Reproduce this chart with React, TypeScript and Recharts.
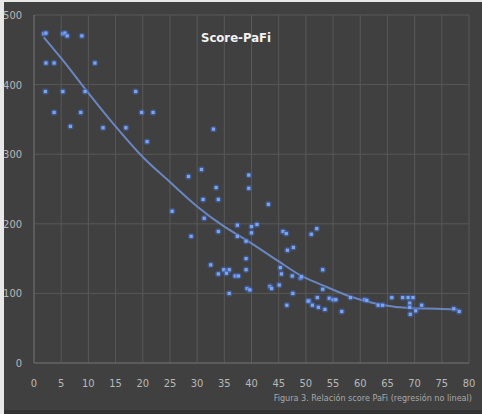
import { CartesianGrid, ComposedChart, Line, Scatter, XAxis, YAxis } from 'recharts'

const scoreX = [
  1.8, 2.2, 5.3, 5.7, 6.1, 8.8, 2.2, 3.7, 11.2, 2.1, 5.3, 9.4, 18.7, 3.7, 8.6, 19.8, 21.9, 6.7, 12.7, 16.9,
  20.8, 33, 30.8, 28.4, 39.5, 39.5, 33.5, 31.1, 33.9, 43.1, 25.4, 31.3, 37.4, 40, 41, 28.9, 33.9, 37.4,
  40, 39, 45.8, 46.4, 52, 51, 47.7, 46.6, 39, 45.3, 45.5, 47.5, 49, 32.5, 34.9, 35.9, 33.9, 35.4, 37,
  37.6, 39, 39.2, 39.7, 35.9, 43.4, 43.7, 45.1, 47.6, 46.5, 50.6, 51.2, 52.1, 52.3, 53.1, 49.2, 53.1,
  50.4, 53.5, 54.3, 55, 55.5, 56.6, 58.2, 60.8, 61.2, 63.3, 64.1, 65.8, 67.8, 68.8, 69.7, 69.1, 69.1,
  69.2, 70.2, 71.3, 77.2, 78.2,
]
const pafiY = [
  473, 474, 473, 474, 470, 470, 431, 431, 431, 390, 390, 390, 390, 360, 360, 360, 360, 340, 338, 338,
  318, 336, 278, 268, 270, 251, 252, 235, 235, 228, 218, 208, 198, 196, 199, 182, 189, 182, 187, 175,
  189, 186, 193, 185, 166, 162, 150, 137, 128, 125, 122, 141, 134, 134, 128, 129, 125, 125, 134, 107,
  105, 100, 110, 107, 112, 100, 83, 89, 83, 94, 80, 134, 124, 106, 89, 77, 93, 91, 91, 74, 94, 91, 90,
  83, 83, 94, 94, 94, 94, 86, 80, 70, 75, 83, 78, 74,
]

const trendX = [1.8, 5, 10, 15, 20, 25, 30, 35, 39, 45, 49, 53, 58, 63.6, 69, 74, 78]
const trendY = [468, 438, 388, 340, 296, 260, 225, 196, 177, 146, 126, 112, 96, 84, 79, 78, 77]

const xTicks = [0, 5, 10, 15, 20, 25, 30, 35, 40, 45, 50, 55, 60, 65, 70, 75, 80]
const yTicks = [0, 100, 200, 300, 400, 500]

const points = scoreX.map((x, i) => ({ x, y: pafiY[i] }))
const trend = trendX.map((x, i) => ({ x, y: trendY[i] }))

const FONT = '"DejaVu Sans Condensed", "Liberation Sans Narrow", "Open Sans", sans-serif'

const Dot = (props: any) => {
  const { cx, cy } = props
  if (cx == null || cy == null) return null
  return (
    <g>
      <circle cx={cx} cy={cy} r={3.2} fill="#3f66b8" opacity={0.6} />
      <rect x={cx - 1.6} y={cy - 1.6} width={3.2} height={3.2} fill="#7fa4ee" />
    </g>
  )
}

export default function App() {
  return (
    <div
      style={{
        position: 'absolute', left: 0, top: 0, width: 482, height: 414,
        background: '#e8e8e8', overflow: 'hidden',
      }}
    >
      <div
        style={{
          position: 'absolute', left: 4, top: 2, width: 478, height: 408,
          background: '#404040', borderBottom: '4px solid #333',
        }}
      />
      <div style={{ position: 'absolute', left: 0, top: 0 }}>
        <ComposedChart width={482} height={414} margin={{ top: 15, right: 13, bottom: 0, left: 0 }}>
          <CartesianGrid stroke="#585858" strokeWidth={1} />
          <XAxis
            type="number"
            dataKey="x"
            domain={[0, 80]}
            ticks={xTicks}
            height={51}
            axisLine={{ stroke: '#6a6a6a' }}
            tickLine={false}
            tick={{ fill: '#b8b8b8', fontSize: 11, fontFamily: FONT }}
            tickMargin={10}
          />
          <YAxis
            type="number"
            dataKey="y"
            domain={[0, 500]}
            ticks={yTicks}
            width={34}
            axisLine={{ stroke: '#6a6a6a' }}
            tickLine={false}
            tick={{ fill: '#b8b8b8', fontSize: 11, fontFamily: FONT }}
            tickMargin={6}
          />
          <Line
            data={trend}
            dataKey="y"
            type="monotone"
            stroke="#6a86c0"
            strokeWidth={2}
            dot={false}
            isAnimationActive={false}
          />
          <Scatter data={points} dataKey="y" shape={<Dot />} isAnimationActive={false} />
        </ComposedChart>
      </div>
      <div
        style={{
          position: 'absolute', left: 196, top: 30, width: 80, textAlign: 'center',
          color: '#f2f2f2', fontFamily: FONT, fontSize: 13, fontWeight: 600,
        }}
      >
        Score-PaFi
      </div>
      <div
        style={{
          position: 'absolute', right: 10, top: 393, color: '#a8a8a8',
          fontFamily: FONT, fontSize: 9, whiteSpace: 'nowrap',
        }}
      >
        Figura 3. Relación score PaFi (regresión no lineal)
      </div>
    </div>
  )
}
